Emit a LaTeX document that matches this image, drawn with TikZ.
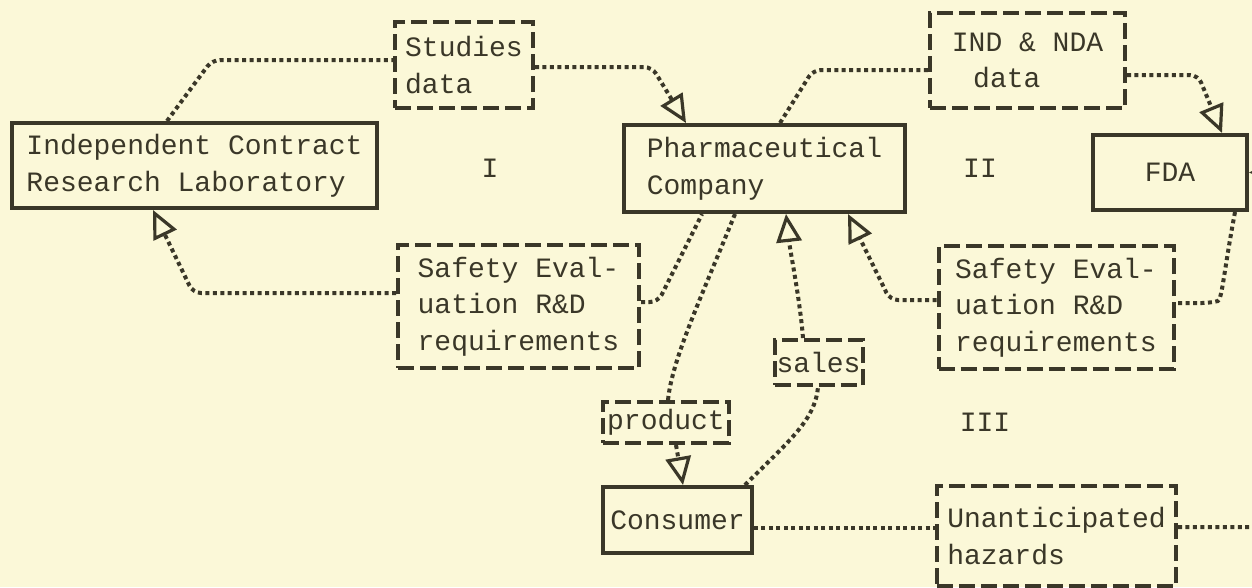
\documentclass[tikz,border=0pt]{standalone}
\usepackage{fontspec}
\setmonofont{Liberation Mono}
\usetikzlibrary{arrows.meta,calc}
\definecolor{ink}{RGB}{58,55,40}
\definecolor{paper}{RGB}{251,248,216}
\tikzset{
  txt/.style={font=\ttfamily\fontsize{21}{27.5}\selectfont, text=ink, align=left, inner sep=0pt},
  solidbox/.style={txt, draw=ink, line width=3pt},
  dashbox/.style={txt, draw=ink, line width=3pt, dash pattern=on 12pt off 4.5pt},
  dotline/.style={draw=ink, line width=3pt, dash pattern=on 3pt off 2.6pt, rounded corners=6pt},
  tip/.style={-{Triangle[open,length=21pt,width=19pt,line width=2.4pt]}},
  numeral/.style={txt}
}
\begin{document}
\begin{tikzpicture}[x=0.75pt,y=-0.75pt]
\useasboundingbox (0,0) rectangle (1252,587);
\fill[paper] (0,0) rectangle (1252,587);
\clip (0,0) rectangle (1252,587);

% nodes
\node[solidbox, minimum width=273.75pt, minimum height=63.75pt] (lab) at (194.5,165.5) {Independent Contract\\Research Laboratory};
\node[dashbox, minimum width=103.5pt, minimum height=64.5pt] (studies) at (464,65) {Studies\\data};
\node[solidbox, minimum width=210.75pt, minimum height=65.25pt] (pharma) at (764.5,168.5) {Pharmaceutical\\Company};
\node[dashbox, minimum width=146.25pt, minimum height=71.25pt] (ind) at (1027.5,60.5) {IND \& NDA\\\hspace*{16pt}data\hspace*{20pt}};
\node[solidbox, minimum width=115.5pt, minimum height=56.25pt] (fda) at (1170,172.5) {FDA};
\node[dashbox, minimum width=180.75pt, minimum height=92.25pt] (safL) at (518.5,306.5) {Safety Eval-\\uation R\&D\\requirements};
\node[dashbox, minimum width=176.25pt, minimum height=92.25pt] (safR) at (1056,307.5) {Safety Eval-\\uation R\&D\\requirements};
\node[dashbox, minimum width=66pt, minimum height=33.75pt] (sales) at (818.5,362.5) {sales};
\node[dashbox, minimum width=94pt, minimum height=30.75pt] (product) at (666,422.5) {product};
\node[solidbox, minimum width=111.75pt, minimum height=49.5pt] (consumer) at (677.5,520) {Consumer};
\node[dashbox, minimum width=179.25pt, minimum height=75pt] (unant) at (1056.5,536) {Unanticipated\\hazards};

\node[numeral] (n1) at (490,168) {I};
\node[numeral] (n2) at (980,168) {II};
\node[numeral] (n3) at (985,422) {III};

% connectors
\draw[dotline] (167,0 |- lab.north) -- (212,60) -- (studies.west |- 0,60);
\draw[dotline, tip] (studies.east |- 0,67) -- (652,67) -- (686,0 |- pharma.north);
\draw[dotline] (780,0 |- pharma.north) -- (813,70) -- (ind.west |- 0,70);
\draw[dotline, tip] (ind.east |- 0,75) -- (1198,75) -- (1222,0 |- fda.north);
\draw[dotline] (1235,0 |- fda.south) .. controls (1224,270) and (1222,300) .. (1210,303) -- (safR.east |- 0,303);
\draw[dotline, tip] (safR.west |- 0,300) -- (890,300) -- (848,0 |- pharma.south);
\draw[dotline] (safL.east |- 0,302) -- (658,302) -- (702,0 |- pharma.south);
\draw[dotline, tip] (safL.west |- 0,293) -- (193,293) -- (153,0 |- lab.south);
\draw[dotline] (735,0 |- pharma.south) .. controls (700,300) and (672,360) .. (668,0 |- product.north);
\draw[dotline, tip] (676,0 |- product.south) -- (683,0 |- consumer.north);
\draw[dotline] (745,0 |- consumer.north) .. controls (790,440) and (815,420) .. (818,0 |- sales.south);
\draw[dotline, tip] (803,0 |- sales.north) .. controls (800,300) and (790,250) .. (786,0 |- pharma.south);
\draw[dotline] (consumer.east |- 0,528) -- (unant.west |- 0,528);
\draw[dotline, tip] (unant.east |- 0,527) -- (1300,527) -- (1300,172) -- (fda.east);
\end{tikzpicture}
\end{document}
